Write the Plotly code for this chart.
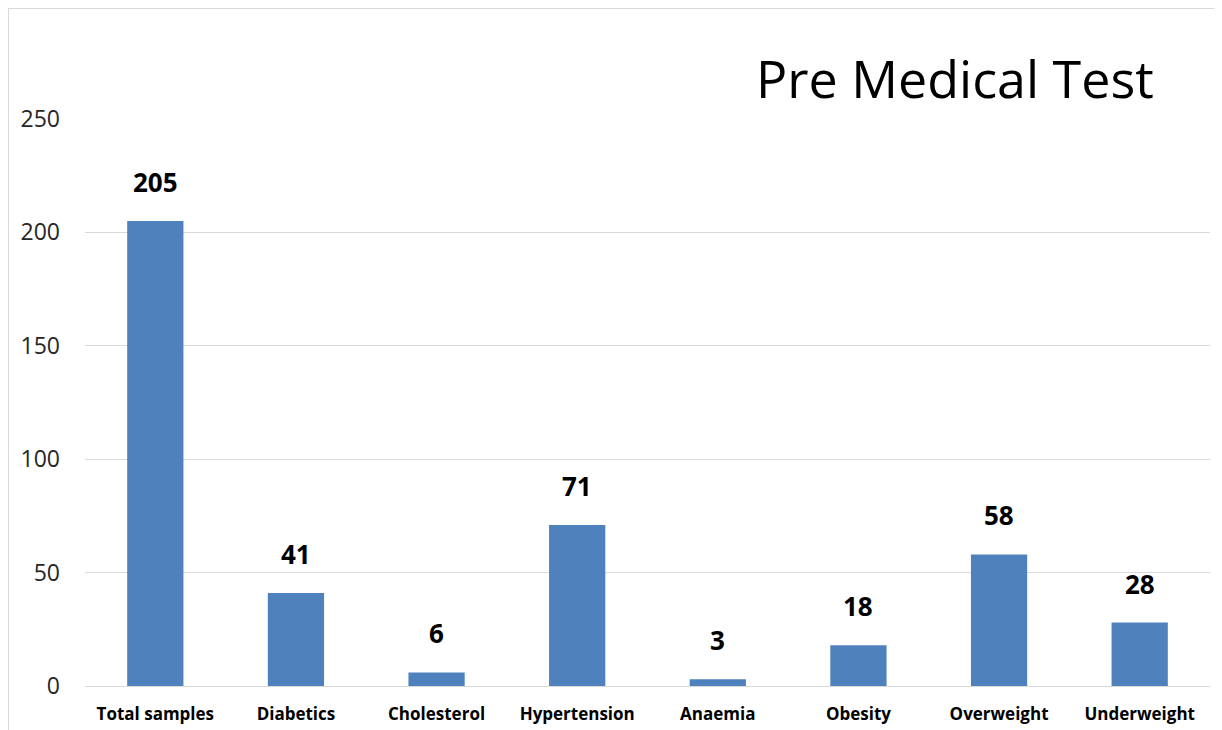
import plotly.graph_objects as go

categories = ["Total samples", "Diabetics", "Cholesterol", "Hypertension",
              "Anaemia", "Obesity", "Overweight", "Underweight"]
values = [205, 41, 6, 71, 3, 18, 58, 28]
y_ticks = [0, 50, 100, 150, 200, 250]

# page body has 8px margin; figure starts at (8, 8)
OFF = 8
W, H = 1222 - OFF, 730 - OFF
ml, mr, mt, mb = 85 - OFF, 12, 119 - OFF, 44

fig = go.Figure()
fig.add_trace(go.Bar(
    x=categories, y=values,
    marker=dict(color="#4F81BD", line=dict(width=0)),
    hoverinfo="x+y",
))

for c, v in zip(categories, values):
    fig.add_annotation(x=c, y=v, text=f"<b>{v}</b>", showarrow=False,
                       yanchor="middle", yshift=39,
                       font=dict(family="Open Sans", size=26, color="#000000"))

fig.update_layout(
    width=W, height=H,
    margin=dict(l=ml, r=mr, t=mt, b=mb, autoexpand=False),
    paper_bgcolor="white", plot_bgcolor="white",
    bargap=0.6,
    showlegend=False,
    font=dict(family="Open Sans"),
)
fig.update_xaxes(
    automargin=False,
    showgrid=False, showline=False, ticks="",
    tickfont=dict(family="Open Sans", size=17, color="#000000", weight="bold"),
    ticklabelstandoff=16,
)
fig.update_yaxes(
    automargin=False,
    range=[0, 250], tickvals=y_ticks,
    showgrid=True, gridcolor="#D9D9D9", gridwidth=1,
    zeroline=True, zerolinecolor="#D9D9D9", zerolinewidth=1,
    showline=False, ticks="",
    tickfont=dict(family="Open Sans", size=23, color="#262626"),
    ticklabelstandoff=24,
)

pw, ph = W - ml - mr, H - mt - mb

# title
fig.add_annotation(xref="paper", yref="paper",
                   x=(1156 - OFF - ml) / pw, y=1 + (mt - (77 - OFF)) / ph,
                   xanchor="right", yanchor="middle", showarrow=False,
                   text="Pre Medical Test",
                   font=dict(family="Open Sans", size=52, color="#000000"))

# outer light border (top and left edges of the chart)
x_left = -ml / pw
y_top = 1 + mt / ph
fig.add_shape(type="line", xref="paper", yref="paper",
              x0=x_left, x1=1 + mr / pw, y0=y_top, y1=y_top,
              line=dict(color="#D9D9D9", width=2))
fig.add_shape(type="line", xref="paper", yref="paper",
              x0=x_left, x1=x_left, y0=y_top, y1=-mb / ph,
              line=dict(color="#D9D9D9", width=2))

fig.write_html("out.html")
